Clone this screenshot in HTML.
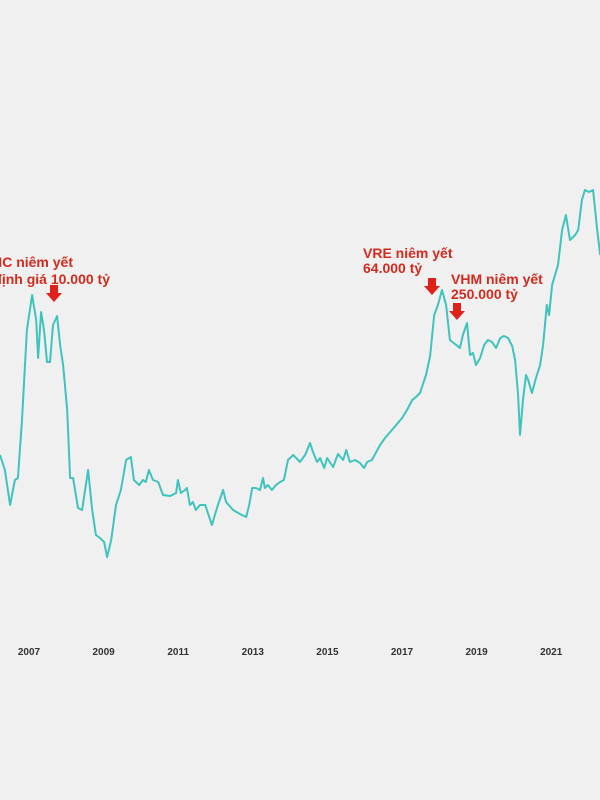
<!DOCTYPE html>
<html><head><meta charset="utf-8"><style>
html,body{margin:0;padding:0;background:#f0f0f0;}
svg{display:block;}
</style></head><body>
<svg id="chart" width="600" height="800" xmlns="http://www.w3.org/2000/svg">
<rect x="0" y="0" width="600" height="800" fill="#f0f0f0"/>
<g id="axis"></g>
<path id="line" fill="none" stroke="#3ec3bd" stroke-width="2" stroke-linejoin="round"/>
<g font-family="Liberation Sans, sans-serif" font-weight="bold" font-size="14" fill="#d42a1e">
<text x="73" y="267" text-anchor="end">VIC niêm yết</text>
<text x="110" y="284" text-anchor="end">định giá 10.000 tỷ</text>
</g>
<g font-family="Liberation Sans, sans-serif" font-weight="bold" font-size="14" fill="#d42a1e">
<text x="363" y="258">VRE niêm yết</text>
<text x="363" y="273">64.000 tỷ</text>
</g>
<g font-family="Liberation Sans, sans-serif" font-weight="bold" font-size="14" fill="#d42a1e">
<text x="451" y="284">VHM niêm yết</text>
<text x="451" y="299">250.000 tỷ</text>
</g>
<polygon fill="#e0201a" points="50,285 58,285 58,293 62,293 54,302 46,293 50,293"/>
<polygon fill="#e0201a" points="428,278 436,278 436,286 440,286 432,295 424,286 428,286"/>
<polygon fill="#e0201a" points="453,303 461,303 461,311 465,311 457,320 449,311 453,311"/>
</svg>
<script>
const tickYears=[2007,2009,2011,2013,2015,2017,2019,2021];
const dates=[2006.25,2006.38,2006.52,2006.65,2006.73,2006.84,2006.97,2007.11,2007.22,2007.27,2007.35,2007.43,2007.51,2007.59,2007.67,2007.78,2007.86,2007.94,2008.05,2008.13,2008.21,2008.34,2008.45,2008.61,2008.72,2008.82,2008.93,2009.04,2009.12,2009.23,2009.36,2009.49,2009.63,2009.76,2009.84,2009.98,2010.08,2010.16,2010.24,2010.35,2010.49,2010.62,2010.81,2010.97,2011.02,2011.10,2011.21,2011.26,2011.34,2011.42,2011.50,2011.61,2011.75,2011.93,2012.09,2012.23,2012.31,2012.50,2012.68,2012.85,2012.93,2013.01,2013.11,2013.22,2013.30,2013.35,2013.43,2013.54,2013.65,2013.76,2013.86,2013.97,2014.11,2014.24,2014.29,2014.43,2014.56,2014.64,2014.75,2014.83,2014.94,2015.02,2015.18,2015.31,2015.45,2015.53,2015.63,2015.77,2015.90,2016.01,2016.09,2016.22,2016.44,2016.57,2016.71,2016.87,2017.03,2017.16,2017.30,2017.40,2017.51,2017.67,2017.78,2017.89,2017.99,2018.10,2018.21,2018.31,2018.48,2018.58,2018.66,2018.77,2018.85,2018.93,2019.01,2019.12,2019.23,2019.33,2019.44,2019.55,2019.66,2019.76,2019.87,2019.98,2020.06,2020.14,2020.19,2020.27,2020.35,2020.41,2020.51,2020.62,2020.73,2020.81,2020.91,2020.97,2021.05,2021.13,2021.21,2021.32,2021.42,2021.53,2021.67,2021.75,2021.85,2021.93,2022.04,2022.15,2022.26,2022.34];
const values=[195,180,145,170,172,230,320,355,330,292,338,320,288,288,325,334,305,285,240,172,172,142,140,180,140,115,112,108,93,110,145,160,190,193,170,165,170,168,180,170,168,155,154,157,170,157,160,162,145,148,140,145,145,125,145,160,148,140,136,133,145,162,162,160,172,162,165,160,165,168,170,190,195,190,188,195,207,198,188,192,182,192,183,196,190,200,188,190,187,182,188,190,205,212,218,225,232,240,250,253,257,275,294,335,345,360,345,310,305,302,315,327,295,297,285,292,305,310,308,302,312,314,312,304,290,255,215,250,275,270,257,272,285,305,345,335,365,375,385,420,435,410,415,420,450,460,458,460,420,395];
const xS=t=>28+(t-2007)*37.3;
const yS=v=>650-v;
const ns='http://www.w3.org/2000/svg';
const ax=document.getElementById('axis');
tickYears.forEach(y=>{
  const t=document.createElementNS(ns,'text');
  
  
  t.setAttribute('x',xS(y)+1);t.setAttribute('y',655);
  t.setAttribute('text-anchor','middle');
  t.setAttribute('font-family','Liberation Sans, sans-serif');
  t.setAttribute('font-weight','bold');t.setAttribute('font-size','10');
  t.setAttribute('fill','#333');
  t.textContent=y;ax.appendChild(t);
});
document.getElementById('line').setAttribute('d',dates.map((d,i)=>(i?'L':'M')+xS(d).toFixed(1)+','+yS(values[i]).toFixed(1)).join(''));
</script>
</body></html>
